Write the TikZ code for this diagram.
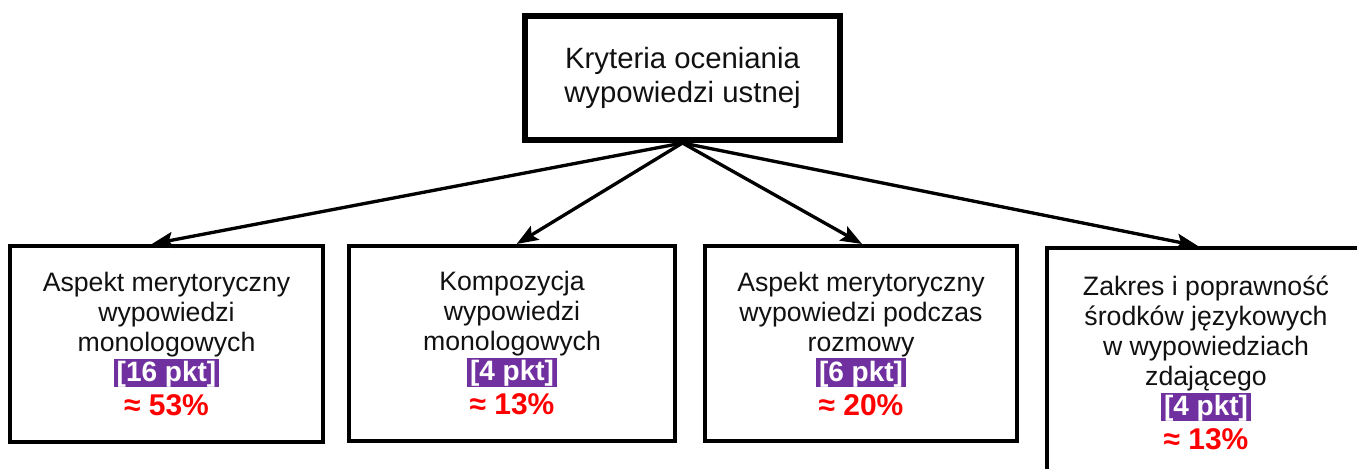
\documentclass[tikz,border=0pt]{standalone}
\usepackage{fontspec}
\setmainfont{Liberation Sans}
\usetikzlibrary{arrows.meta}
\definecolor{hl}{HTML}{7030A0}
\definecolor{pct}{HTML}{FF0000}
\definecolor{txt}{HTML}{111111}
\newcommand\pktbox[1]{{\setlength{\fboxsep}{0pt}\colorbox{hl}{\rule[-4pt]{0pt}{21pt}\hspace{2pt}\textcolor{white}{\fontsize{21}{22.5}\selectfont\bfseries #1}\hspace{2pt}}}}
\newcommand\pctline[1]{\textcolor{pct}{\fontsize{22.5}{22.5}\selectfont\bfseries #1}}
\tikzset{
  lowbox/.style={draw=black, line width=3pt, rectangle, align=center, text=txt,
    font=\fontsize{20}{22.5}\selectfont, inner sep=0pt},
  topbox/.style={draw=black, line width=4.5pt, rectangle, align=center, text=txt,
    font=\fontsize{22}{25}\selectfont, inner sep=0pt,
    minimum width=236.25pt, minimum height=93pt},
  arr/.style={line width=2.5pt, -{Stealth[length=16pt, width=12pt, inset=3pt]}}
}
\begin{document}
\begin{tikzpicture}[x=0.75pt, y=-0.75pt]
\useasboundingbox (0,0) rectangle (1357,468);
\clip (0,0) rectangle (1357,468);
\node[topbox] (top) at (682.5,78) {Kryteria oceniania\\wypowiedzi ustnej};
\node[lowbox, minimum width=234.75pt, minimum height=147pt] (b1) at (166.5,344)
  {Aspekt merytoryczny\\wypowiedzi\\monologowych\\\pktbox{[16 pkt]}\\[3pt]\pctline{≈ 53\%}};
\node[lowbox, minimum width=244.5pt, minimum height=146.25pt] (b2) at (512,343.5)
  {Kompozycja\\wypowiedzi\\monologowych\\\pktbox{[4 pkt]}\\[3pt]\pctline{≈ 13\%}};
\node[lowbox, minimum width=234pt, minimum height=146.25pt] (b3) at (861,343.5)
  {Aspekt merytoryczny\\wypowiedzi podczas\\rozmowy\\\pktbox{[6 pkt]}\\[3pt]\pctline{≈ 20\%}};
\node[lowbox, minimum width=238.5pt, minimum height=172.5pt] (b4) at (1206,363)
  {Zakres i poprawność\\środków językowych\\w wypowiedziach\\zdającego\\\pktbox{[4 pkt]}\\[3pt]\pctline{≈ 13\%}};
\draw[arr] (top.south) -- ([xshift=-11pt]b1.north);
\draw[arr] (top.south) -- ([xshift=3.5pt]b2.north);
\draw[arr] (top.south) -- ([xshift=0.75pt]b3.north);
\draw[arr] (top.south) -- ([xshift=-6pt]b4.north);
\end{tikzpicture}
\end{document}
